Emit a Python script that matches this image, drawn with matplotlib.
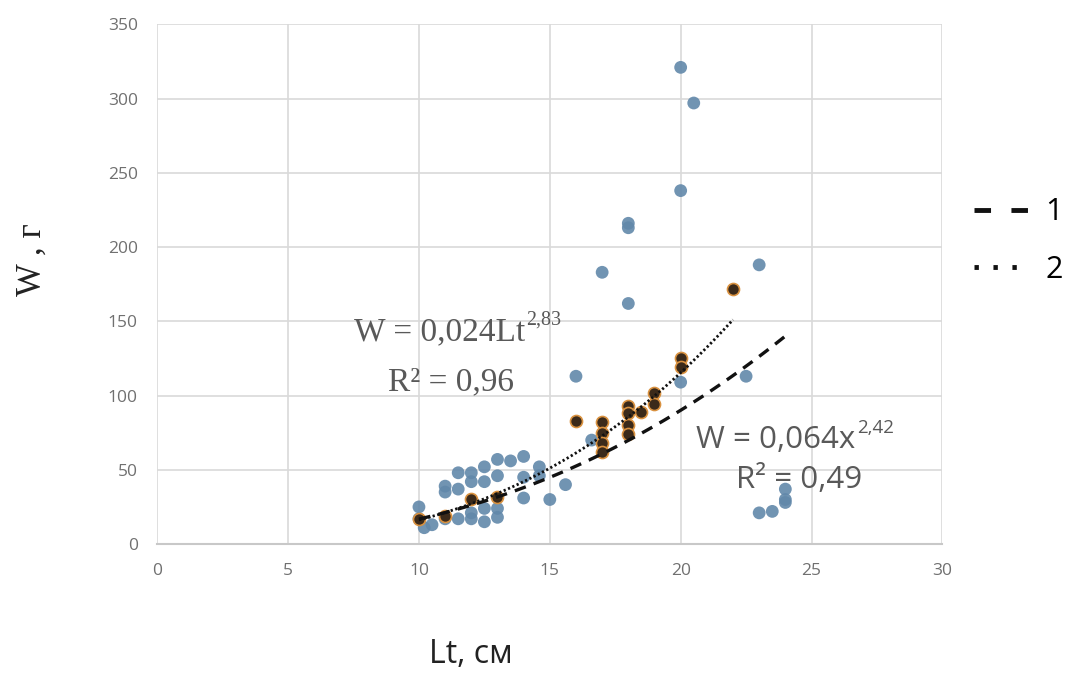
import numpy as np
import matplotlib
matplotlib.use("Agg")
import matplotlib.pyplot as plt
from matplotlib.lines import Line2D
from matplotlib.transforms import offset_copy

# Series 1 (blue points)
blue_x = [20, 20.5, 20, 18, 18, 17, 18, 23, 16, 20, 22.5,
          23, 23.5, 24, 24, 24, 15, 15.6, 14, 14,
          10, 10, 10.2, 10.5, 11, 11, 11, 11.5, 11.5, 11.5, 12, 12, 12, 12,
          12.5, 12.5, 12.5, 12.5, 13, 13, 13, 13, 13.5, 14, 14.6, 14.6, 16.6]
blue_y = [321, 297, 238, 216, 213, 183, 162, 188, 113, 109, 113,
          21, 22, 30, 37, 28, 30, 40, 59, 31,
          25, 17, 11, 13, 39, 35, 17, 48, 37, 17, 48, 42, 21, 17,
          52, 42, 24, 15, 57, 46, 24, 18, 56, 45, 52, 46, 70]

# Series 2 (brown/orange points)
brown_x = [22, 20, 20, 16, 17, 17, 17, 17, 18, 18, 18, 18, 18.5, 19, 19,
           10, 11, 12, 13]
brown_y = [172, 125, 119, 83, 82, 75, 68, 62, 93, 88, 80, 74, 89, 102, 94,
           17, 19, 30, 32]

# Trend lines: W = a * x^b
fit1_a, fit1_b, fit1_range = 0.064, 2.42, (10, 24)
fit2_a, fit2_b, fit2_range = 0.024, 2.83, (10, 22)

xticks = [0, 5, 10, 15, 20, 25, 30]
yticks = [0, 50, 100, 150, 200, 250, 300, 350]

fig = plt.figure(figsize=(10.77, 6.75), dpi=100)
ax = fig.add_axes([0.146, 0.194, 0.729, 0.770])

grid_c = "#d9d9d9"
ax.set_xlim(0, 30)
ax.set_ylim(0, 350)
ax.set_xticks(xticks)
ax.set_yticks(yticks)
ax.grid(True, color=grid_c, linewidth=1.2)
ax.set_axisbelow(True)
for s in ["top", "right", "left"]:
    ax.spines[s].set_visible(False)
ax.spines["bottom"].set_color("#c8c8c8")
ax.spines["bottom"].set_linewidth(1.5)
ax.tick_params(length=0, labelsize=12.5, labelcolor="#707070", pad=14)
for lab in ax.get_xticklabels() + ax.get_yticklabels():
    lab.set_family("Open Sans")

ax.scatter(blue_x, blue_y, s=85, color="#6288aa", alpha=0.9, edgecolor="none", zorder=3)
ax.scatter(brown_x, brown_y, s=75, color="#3b2a1a", edgecolor="#d9913f", linewidth=1.2, zorder=4)

x1 = np.linspace(*fit1_range, 100)
x2 = np.linspace(*fit2_range, 100)
ax.plot(x1, fit1_a * x1 ** fit1_b, color="#111111", lw=2.4, dashes=(3.5, 2.5), zorder=5)
ax.plot(x2, fit2_a * x2 ** fit2_b, color="#111111", lw=2.0, dashes=(0.8, 0.9), zorder=5)

txt_c = "#595959"


def text_with_sup(x, y, base, sup, size, family, rise):
    t = ax.text(x, y, base, fontsize=size, color=txt_c, family=family,
                ha="left", va="center")
    fig.canvas.draw()
    bb = t.get_window_extent()
    inv = ax.transData.inverted()
    xe, _ = inv.transform((bb.x1, bb.y0))
    tr = offset_copy(ax.transData, fig=fig, x=1, y=size * rise, units="points")
    ax.text(xe, y, sup, fontsize=size * 0.6, color=txt_c, family=family,
            ha="left", va="center", transform=tr)


text_with_sup(7.5, 143, "W = 0,024Lt", "2,83", 24, "Liberation Serif", 0.36)
ax.text(8.8, 109, "R² = 0,96", fontsize=24, color=txt_c,
        family="Liberation Serif", ha="left", va="center")
text_with_sup(20.6, 70, "W = 0,064x", "2,42", 22.5, "Open Sans", 0.40)
ax.text(22.1, 43, "R² = 0,49", fontsize=22.5, color=txt_c,
        family="Open Sans", ha="left", va="center")

fig.text(0.030, 0.615, "W , г", rotation=90, fontsize=25, family="Liberation Serif",
         color="#222222", ha="center", va="center")
fig.text(0.437, 0.03, "Lt, см", fontsize=23, family="Open Sans",
         color="#222222", ha="center", va="center")

handles = [Line2D([0], [0], color="#111111", lw=3.5, dashes=(3.4, 4.2)),
           Line2D([0], [0], color="#111111", lw=3.5, dashes=(0.9, 3.0))]
leg = fig.legend(handles, ["1", "2"], loc="center left", bbox_to_anchor=(0.904, 0.643),
                 frameon=False, handlelength=1.85, handletextpad=0.5, labelspacing=0.9,
                 borderpad=0, borderaxespad=0,
                 prop={"family": "Open Sans", "size": 22})

fig.savefig("out.png", dpi=100, facecolor="white")
